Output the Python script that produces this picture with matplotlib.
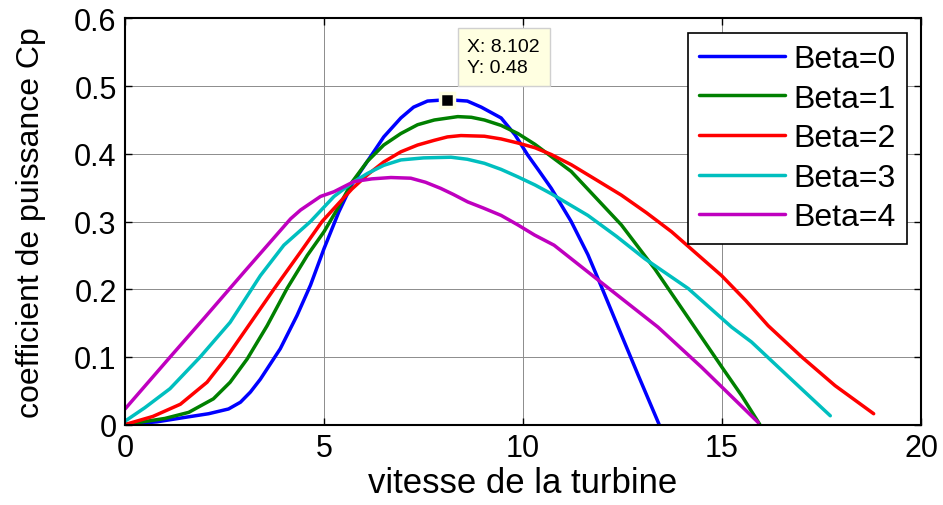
import numpy as np
import matplotlib
matplotlib.use('Agg')
import matplotlib.pyplot as plt
from matplotlib.ticker import FuncFormatter

plt.rcParams['font.family'] = ['Liberation Sans', 'DejaVu Sans']

# Cp curves (tip speed -> power coefficient)
beta0_x = [0, 0.8, 1.55, 2.1, 2.6, 2.9, 3.15, 3.4, 3.9, 4.32, 4.66, 5.0, 5.37, 5.7, 6.09, 6.5,
           6.93, 7.25, 7.6, 8.102, 8.6, 8.95, 9.45, 9.8, 10.12, 10.4, 10.71, 11.21, 11.63, 11.96,
           12.39, 12.9, 13.42]
beta0_y = [0, 0.004, 0.011, 0.016, 0.023, 0.033, 0.048, 0.067, 0.112, 0.161, 0.206, 0.260, 0.314,
           0.355, 0.389, 0.425, 0.453, 0.469, 0.478, 0.480, 0.478, 0.469, 0.453, 0.428, 0.398,
           0.375, 0.349, 0.300, 0.251, 0.205, 0.144, 0.072, 0.0]

beta1_x = [0, 1.0, 1.6, 2.22, 2.64, 3.07, 3.57, 4.07, 4.58, 5.0, 5.37, 5.7, 6.09, 6.5, 6.93,
           7.35, 7.77, 8.36, 8.7, 9.03, 9.45, 9.87, 10.3, 10.71, 11.21, 11.8, 12.47, 13.31, 14.31,
           15.03, 15.49, 15.95]
beta1_y = [0, 0.009, 0.018, 0.038, 0.0625, 0.097, 0.146, 0.201, 0.250, 0.285, 0.322, 0.358, 0.389,
           0.413, 0.430, 0.443, 0.450, 0.455, 0.454, 0.450, 0.442, 0.430, 0.414, 0.396, 0.374,
           0.337, 0.295, 0.230, 0.144, 0.082, 0.043, 0.0]

beta2_x = [0, 0.7, 1.39, 2.06, 2.56, 3.15, 3.74, 4.41, 4.95, 5.37, 5.7, 6.09, 6.5, 6.93, 7.35,
           7.77, 8.1, 8.44, 9.03, 9.45, 9.87, 10.3, 10.71, 11.21, 11.8, 12.47, 13.1, 13.73, 14.35,
           14.99, 15.6, 16.16, 17.0, 17.84, 18.81]
beta2_y = [0, 0.012, 0.030, 0.0625, 0.100, 0.150, 0.200, 0.255, 0.300, 0.327, 0.348, 0.369, 0.388,
           0.403, 0.413, 0.420, 0.425, 0.427, 0.426, 0.422, 0.416, 0.409, 0.399, 0.384, 0.363,
           0.339, 0.313, 0.285, 0.253, 0.220, 0.183, 0.146, 0.100, 0.0575, 0.016]

beta3_x = [0, 0.5, 1.13, 1.89, 2.64, 3.40, 3.99, 4.66, 5.25, 5.7, 6.09, 6.5, 6.93, 7.5, 8.19,
           8.6, 9.03, 9.45, 9.87, 10.3, 10.71, 11.63, 12.35, 13.06, 14.15, 15.24, 15.74, 16.7,
           17.72]
beta3_y = [0.005, 0.025, 0.053, 0.100, 0.151, 0.220, 0.265, 0.300, 0.337, 0.357, 0.371, 0.383,
           0.391, 0.394, 0.395, 0.392, 0.386, 0.377, 0.366, 0.354, 0.341, 0.309, 0.278, 0.245,
           0.201, 0.144, 0.122, 0.069, 0.013]

beta4_x = [0, 1.13, 2.0, 3.0, 4.16, 4.41, 4.91, 5.25, 5.75, 6.2, 6.68, 7.18, 7.55, 7.93, 8.25,
           8.61, 9.0, 9.45, 9.87, 10.29, 10.78, 12.05, 13.39, 14.48, 15.91]
beta4_y = [0.023, 0.0996, 0.158, 0.226, 0.304, 0.317, 0.337, 0.344, 0.359, 0.363, 0.365, 0.364,
           0.358, 0.349, 0.340, 0.329, 0.320, 0.309, 0.295, 0.280, 0.265, 0.206, 0.144, 0.085,
           0.003]

labels = ['Beta=0', 'Beta=1', 'Beta=2', 'Beta=3', 'Beta=4']
colors = ['#0000ff', '#008000', '#ff0000', '#00bfbf', '#bf00bf']
peak_x, peak_y = 8.102, 0.48

fig = plt.figure(figsize=(9.43, 5.06), dpi=100)
ax = fig.add_axes([0.1326, 0.159, 0.8441, 0.8025])

curves = [(beta0_x, beta0_y), (beta1_x, beta1_y), (beta2_x, beta2_y),
          (beta3_x, beta3_y), (beta4_x, beta4_y)]
for (cx, cy), c, lab in zip(curves, colors, labels):
    ax.plot(cx, cy, color=c, lw=2.5, label=lab, solid_capstyle='round', solid_joinstyle='round')

# data tip
ax.plot([peak_x], [peak_y], 's', color='black', ms=10, mec='#ffffe1', mew=2.5, zorder=5)
ax.text(8.6, 0.543, 'X: %.3f\nY: %g' % (peak_x, peak_y), fontsize=14, va='center', ha='left',
        linespacing=1.3, zorder=6,
        bbox=dict(boxstyle='square,pad=0.5', fc='#ffffe1', ec='#d0d0d0', lw=1))

ax.set_xlim(0, 20)
ax.set_ylim(0, 0.6)
ax.set_xticks([0, 5, 10, 15, 20])
ax.set_yticks([0, 0.1, 0.2, 0.3, 0.4, 0.5, 0.6])
ax.yaxis.set_major_formatter(FuncFormatter(lambda v, p: '%g' % round(v, 2)))
ax.tick_params(direction='in', length=5, width=1, labelsize=22, top=True, right=True, pad=6)
ax.grid(True, color='#8c8c8c', lw=0.7, ls='-')
for s in ax.spines.values():
    s.set_linewidth(1.5)

ax.set_xlabel('vitesse de la turbine', fontsize=25, labelpad=2)
ax.set_ylabel('coefficient de puissance Cp', fontsize=23, labelpad=20)

leg = ax.legend(loc='upper right', fontsize=23, handlelength=2.7, labelspacing=0.3,
                handletextpad=0.25, borderpad=0.35, borderaxespad=0.45, fancybox=False,
                framealpha=1, edgecolor='black')
leg.get_frame().set_linewidth(1.2)

fig.savefig('out.png', dpi=100)
